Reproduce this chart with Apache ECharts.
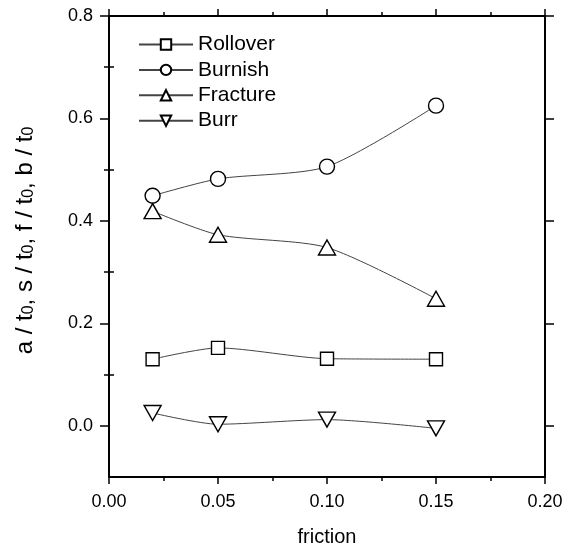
<!DOCTYPE html>
<html>
<head>
<meta charset="utf-8">
<script src="https://cdn.jsdelivr.net/npm/echarts@6/dist/echarts.min.js"></script>
<style>html,body{margin:0;padding:0;background:#fff;}#c{width:571px;height:550px;}</style>
</head>
<body>
<div id="c"></div>
<script>
var friction = [0.02, 0.05, 0.10, 0.15];
var rollover = [0.130, 0.152, 0.131, 0.130];
var burnish = [0.449, 0.482, 0.506, 0.625];
var fracture = [0.419, 0.373, 0.348, 0.248];
var burr = [0.025, 0.003, 0.012, -0.005];
var seriesNames = ['Rollover', 'Burnish', 'Fracture', 'Burr'];
var yTicks = [0.0, 0.2, 0.4, 0.6, 0.8];
var yMinorTicks = [0.1, 0.3, 0.5, 0.7];

var FONT = "'Liberation Sans', Arial, sans-serif";
function pairs(ys) { return friction.map(function (x, i) { return [x, ys[i]]; }); }

var lineAxis = { show: true, onZero: false, lineStyle: { color: '#000', width: 2 } };

function mkSeries(name, ys, symbol, size, rot) {
  return {
    name: name, type: 'line', data: pairs(ys), smooth: 0.25,
    symbol: symbol, symbolSize: size, symbolRotate: rot || 0,
    showAllSymbol: true,
    lineStyle: { color: '#444', width: 1 },
    itemStyle: { color: '#fff', borderColor: '#000', borderWidth: 1.4 },
    emphasis: { disabled: true },
    xAxisIndex: 0, yAxisIndex: 0, z: 3
  };
}

var chart = echarts.init(document.getElementById('c'), null, { renderer: 'canvas' });
chart.setOption({
  animation: false,
  backgroundColor: '#fff',
  textStyle: { fontFamily: FONT },
  grid: { left: 109, right: 26, top: 16, bottom: 73, containLabel: false, outerBoundsMode: 'none' },
  legend: {
    orient: 'vertical', left: 138, top: 34, padding: 0,
    itemWidth: 54, itemHeight: 13, itemGap: 4.4,
    data: seriesNames,
    textStyle: { fontFamily: FONT, fontSize: 21, color: '#000', lineHeight: 20 }
  },
  xAxis: [
    {
      type: 'value', position: 'bottom', min: 0, max: 0.2, interval: 0.05,
      axisLine: lineAxis,
      axisTick: { show: true, length: 7, lineStyle: { color: '#000', width: 1.5 } },
      minorTick: { show: true, splitNumber: 2, length: 4, lineStyle: { color: '#000', width: 1.5 } },
      splitLine: { show: false },
      axisLabel: { color: '#000', fontSize: 18, fontFamily: FONT, margin: 16,
        formatter: function (v) { return v.toFixed(2); } },
      name: 'friction', nameLocation: 'middle', nameGap: 50,
      nameTextStyle: { color: '#000', fontSize: 20, fontFamily: FONT }
    },
    {
      type: 'value', position: 'top', min: 0, max: 0.2, interval: 0.05,
      axisLine: lineAxis,
      axisTick: { show: true, length: 7, lineStyle: { color: '#000', width: 1.5 } },
      minorTick: { show: true, splitNumber: 2, length: 4, lineStyle: { color: '#000', width: 1.5 } },
      splitLine: { show: false },
      axisLabel: { show: false }
    }
  ],
  yAxis: [
    {
      type: 'value', position: 'left', min: -0.1, max: 0.8, interval: 0.1,
      axisLine: lineAxis,
      axisTick: { show: true, length: 9, customValues: yTicks, lineStyle: { color: '#000', width: 1.5 } },
      splitLine: { show: false },
      axisLabel: { color: '#000', fontSize: 18, fontFamily: FONT, margin: 16, customValues: yTicks,
        formatter: function (v) { return v.toFixed(1); } },
      name: '{m|a / t}{s|0}{m|, s / t}{s|0}{m|, f / t}{s|0}{m|, b / t}{s|0}',
      nameLocation: 'middle', nameGap: 72,
      nameTextStyle: {
        color: '#000', fontFamily: FONT, padding: [0, 0, 0, 12],
        rich: {
          m: { fontSize: 24, lineHeight: 24, color: '#000', fontFamily: FONT },
          s: { fontSize: 16, lineHeight: 10, verticalAlign: 'bottom', color: '#000', fontFamily: FONT }
        }
      }
    },
    {
      type: 'value', position: 'left', min: -0.1, max: 0.8, interval: 0.1,
      axisLine: { show: false },
      axisTick: { show: true, length: 5, customValues: yMinorTicks, lineStyle: { color: '#000', width: 1.5 } },
      splitLine: { show: false },
      axisLabel: { show: false }
    },
    {
      type: 'value', position: 'right', min: -0.1, max: 0.8, interval: 0.1,
      axisLine: lineAxis,
      axisTick: { show: true, length: 9, customValues: yTicks, lineStyle: { color: '#000', width: 1.5 } },
      splitLine: { show: false },
      axisLabel: { show: false }
    },
    {
      type: 'value', position: 'right', min: -0.1, max: 0.8, interval: 0.1,
      axisLine: { show: false },
      axisTick: { show: true, length: 5, customValues: yMinorTicks, lineStyle: { color: '#000', width: 1.5 } },
      splitLine: { show: false },
      axisLabel: { show: false }
    }
  ],
  series: [
    mkSeries('Rollover', rollover, 'rect', 13),
    mkSeries('Burnish', burnish, 'circle', 15),
    mkSeries('Fracture', fracture, 'triangle', [17, 15]),
    mkSeries('Burr', burr, 'triangle', [17, 15], 180)
  ]
});
</script>
</body>
</html>
